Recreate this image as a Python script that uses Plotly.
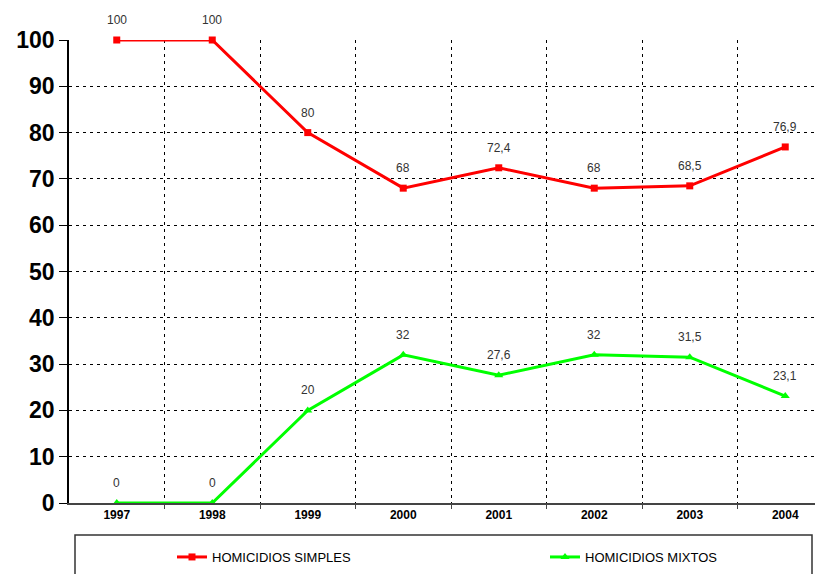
import plotly.graph_objects as go

years = ['1997', '1998', '1999', '2000', '2001', '2002', '2003', '2004']
simples = [100, 100, 80, 68, 72.4, 68, 68.5, 76.9]
mixtos = [0, 0, 20, 32, 27.6, 32, 31.5, 23.1]
simples_lbl = ['100', '100', '80', '68', '72,4', '68', '68,5', '76,9']
mixtos_lbl = ['0', '0', '20', '32', '27,6', '32', '31,5', '23,1']

# the page body has an 8px margin, so the figure is shifted by that
OFF = 8
W, H = 823 - OFF, 574 - OFF
L, R, T = 69 - OFF, 0, 40 - OFF
B = H - T - 463
FONT = 'Arial, Liberation Sans, sans-serif'
DASH = '3px,4px'

xs = list(range(len(years)))
pw = W - L - R
ph = H - T - B


def px_x(p):
    # screen pixel -> paper x
    return (p - OFF - L) / pw


def px_y(p):
    # screen pixel -> paper y
    return (H - B - (p - OFF)) / ph


fig = go.Figure()
fig.add_trace(go.Scatter(
    x=xs, y=simples, name='HOMICIDIOS SIMPLES', mode='lines+markers',
    line=dict(color='#FF0000', width=3),
    marker=dict(symbol='square', size=7, color='#FF0000'),
    cliponaxis=False, legend='legend'))
fig.add_trace(go.Scatter(
    x=xs, y=mixtos, name='HOMICIDIOS MIXTOS', mode='lines+markers',
    line=dict(color='#00FF00', width=3),
    marker=dict(symbol='triangle-up', size=8, color='#00FF00'),
    cliponaxis=False, legend='legend2'))

# point labels
for vals, lbls in ((simples, simples_lbl), (mixtos, mixtos_lbl)):
    for x, v, t in zip(xs, vals, lbls):
        fig.add_annotation(x=x, y=v, text=t, showarrow=False, yshift=20,
                           font=dict(family=FONT, size=12, color='#333333'))

# legend frame (runs off the bottom like the original)
fig.add_shape(type='rect', xref='paper', yref='paper',
              x0=px_x(75), x1=px_x(812), y0=px_y(600), y1=px_y(535),
              line=dict(color='#333333', width=1.5), fillcolor='rgba(0,0,0,0)')

bounds = [i + 0.5 for i in range(len(years))]
leg = dict(xanchor='left', yanchor='middle', y=px_y(557),
           font=dict(family=FONT, size=13, color='black'),
           bgcolor='rgba(0,0,0,0)', borderwidth=0)

fig.update_layout(
    width=W, height=H,
    margin=dict(l=L, r=R, t=T, b=B, autoexpand=False),
    paper_bgcolor='white', plot_bgcolor='white',
    font=dict(family=FONT, color='black'),
    showlegend=True,
    legend=dict(leg, x=px_x(172)),
    legend2=dict(leg, x=px_x(545)),
    xaxis=dict(
        range=[-0.5, -0.5 + pw / 95.5], automargin=False,
        tickvals=xs, ticktext=years, ticks='', showgrid=False,
        tickfont=dict(family=FONT, size=12, color='black', weight='bold'),
        showline=True, linecolor='#444444', linewidth=2,
        zeroline=False,
        minor=dict(tickvals=bounds, ticks='outside', ticklen=4,
                   tickcolor='#444444', showgrid=True,
                   gridcolor='black', griddash=DASH, gridwidth=1),
    ),
    yaxis=dict(
        range=[0, 100], tickvals=list(range(0, 101, 10)), automargin=False,
        ticks='outside', ticklen=8, tickcolor='black',
        tickfont=dict(family=FONT, size=23, color='black', weight='bold'),
        showline=True, linecolor='black', linewidth=1.5,
        showgrid=True, gridcolor='black', griddash=DASH, gridwidth=1,
        zeroline=False,
    ),
)

fig.write_html('out.html')
